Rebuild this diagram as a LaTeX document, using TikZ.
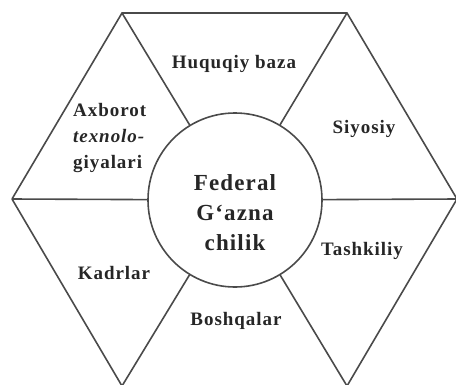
\documentclass[tikz,border=0pt]{standalone}
\usepackage{fontspec}
\setmainfont{Liberation Serif}[LetterSpace=5]
\definecolor{linec}{HTML}{4A4A4A}
\definecolor{textc}{HTML}{262626}
\begin{document}
\begin{tikzpicture}[x=1pt,y=-1pt,
  edge/.style={draw=linec,line width=1.6pt},
  lbl/.style={text=textc,font=\fontsize{19}{26}\selectfont\bfseries,inner sep=0pt,align=center},
  hub/.style={circle,draw=linec,line width=1.6pt,minimum size=174pt,inner sep=0pt},
  hubtext/.style={text=textc,font=\fontsize{23}{30}\selectfont\bfseries,align=center,inner sep=0pt}]
\useasboundingbox (0,0) rectangle (456,384);
\clip (0,0) rectangle (456,384);
\coordinate (TL) at (122,13);
\coordinate (TR) at (347,13);
\coordinate (L) at (12,199);
\coordinate (R) at (457,199);
\coordinate (BL) at (122,386);
\coordinate (BR) at (347,386);
\node[hub] (c) at (235,200) {};
\node[hubtext] (fed) at (235,213) {Federal\\G‘azna\\chilik};
\draw[edge] (L) -- (TL) -- (TR) -- (R);
\draw[edge] (L) -- (BL);
\draw[edge] (R) -- (BR);
\draw[edge] (TL) -- (c);
\draw[edge] (TR) -- (c);
\draw[edge] (BL) -- (c);
\draw[edge] (BR) -- (c);
\draw[edge] (L) -- (c);
\draw[edge] (R) -- (c);
\node[lbl] (huq) at (234,64) {Huquqiy baza};
\node[lbl] (siy) at (364,129) {Siyosiy};
\node[lbl,align=left,anchor=west] (axb) at (73,138) {Axborot\\\textit{texnolo-}\\giyalari};
\node[lbl] (tash) at (362,251) {Tashkiliy};
\node[lbl] (kad) at (114,273) {Kadrlar};
\node[lbl] (bos) at (236,321) {Boshqalar};
\end{tikzpicture}
\end{document}
